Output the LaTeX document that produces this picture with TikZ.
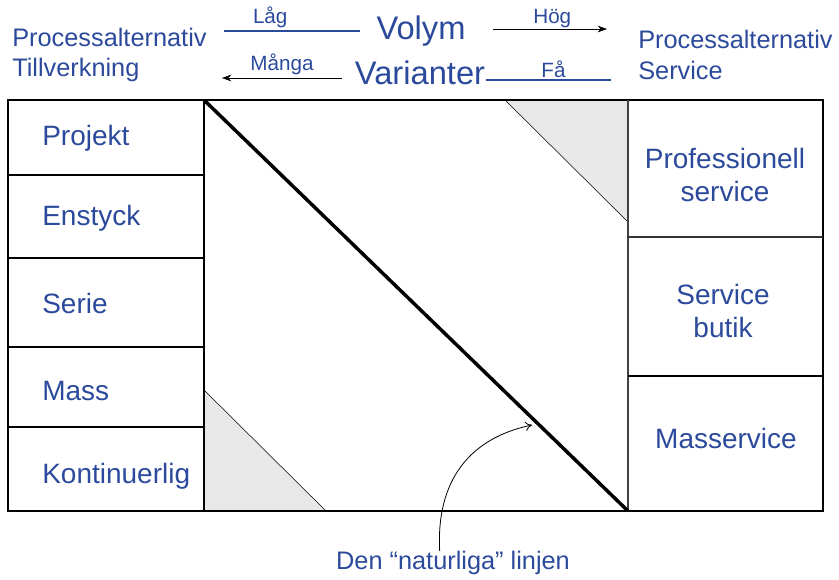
\documentclass[tikz,border=0pt]{standalone}
\usepackage{fontspec}
\setmainfont{Liberation Sans}
\usetikzlibrary{arrows.meta}
\definecolor{textblue}{RGB}{44,74,156}
\definecolor{ljusgra}{RGB}{232,232,232}
\begin{document}
\begin{tikzpicture}[x=0.75pt,y=-0.75pt,
  rubrik/.style={text=textblue,font=\fontsize{19}{23}\selectfont,align=left,inner sep=0pt},
  storord/.style={text=textblue,font=\fontsize{24.5}{28}\selectfont,inner sep=0pt},
  etikett/.style={text=textblue,font=\fontsize{15.5}{18}\selectfont,inner sep=1pt},
  cell/.style={text=textblue,font=\fontsize{21}{25}\selectfont,align=center,inner sep=0pt},
  pil/.style={-{Stealth[length=7pt,width=5pt]},thin},
  blalinje/.style={draw=textblue,line width=1pt},
  ram/.style={draw,line width=.9pt}]
  \useasboundingbox (0,0) rectangle (839,579);
  % rubriker
  \node[rubrik,anchor=west] (tillv) at (12,55) {Processalternativ\\Tillverkning};
  \node[rubrik,anchor=west] (serv) at (638,55) {Processalternativ\\Service};
  \node[storord] (volym) at (421,31) {Volym};
  \node[storord] (varianter) at (420,73) {Varianter};
  \coordinate (lagA) at (224,31);
  \coordinate (lagB) at (360,31);
  \coordinate (hogA) at (493,29);
  \coordinate (hogB) at (607,29);
  \coordinate (mangaA) at (342,78);
  \coordinate (mangaB) at (222,78);
  \coordinate (faA) at (486,80);
  \coordinate (faB) at (611,80);
  \draw[blalinje] (lagA)--node[etikett,pos=.34,above=1pt] (lag) {Låg} (lagB);
  \draw[pil] (hogA)--node[etikett,pos=.52,above=0pt] (hog) {Hög} (hogB);
  \draw[pil] (mangaA)--node[etikett,above=1pt] (manga) {Många} (mangaB);
  \draw[blalinje] (faA)--node[etikett,pos=.54,above=0pt] (fa) {Få} (faB);
  % matris
  \coordinate (nv) at (8,100);
  \coordinate (mv) at (204,100);
  \coordinate (mh) at (628,100);
  \coordinate (oh) at (823,100);
  \coordinate (nvB) at (8,511);
  \coordinate (mvB) at (204,511);
  \coordinate (mhB) at (628,511);
  \coordinate (ohB) at (823,511);
  \fill[ljusgra] (505,100)--(628,100)--(628,222)--cycle;
  \fill[ljusgra] (204,390)--(204,511)--(326,511)--cycle;
  \draw[thin] (505,100)--(628,222);
  \draw[thin] (204,390)--(326,511);
  \draw[ram] (nv) rectangle (ohB);
  \draw[ram] (mv)--(mvB);
  \draw[ram,draw=black!75,line width=1.2pt] (mh)--(mhB);
  \foreach \y in {175,258,347,427} \draw[ram] (8,\y)--(204,\y);
  \draw[ram,draw=black!80] (628,237)--(823,237);
  \draw[line width=1.6pt] (628,376)--(823,376);
  \draw[line width=2.6pt] (mv)--(mhB);
  % celler
  \node[cell,anchor=west] (projekt) at (42,138) {Projekt};
  \node[cell,anchor=west] (enstyck) at (42,218) {Enstyck};
  \node[cell,anchor=west] (serie) at (42,303) {Serie};
  \node[cell,anchor=west] (mass) at (42,391) {Mass};
  \node[cell,anchor=west] (kont) at (42,476) {Kontinuerlig};
  \node[cell] (prof) at (725,175) {Professionell\\service};
  \node[cell] (butik) at (723,311) {Service\\butik};
  \node[cell] (masserv) at (726,438) {Masservice};
  % naturliga linjen
  \node[rubrik] (naturlig) at (453,563) {Den “naturliga” linjen};
  \coordinate (diag) at (532,425);
  \draw[-{To[length=5pt,width=7pt]},semithick] ([xshift=-10pt]naturlig.north) .. controls (436,480) and (470,438) .. (diag);
\end{tikzpicture}
\end{document}
